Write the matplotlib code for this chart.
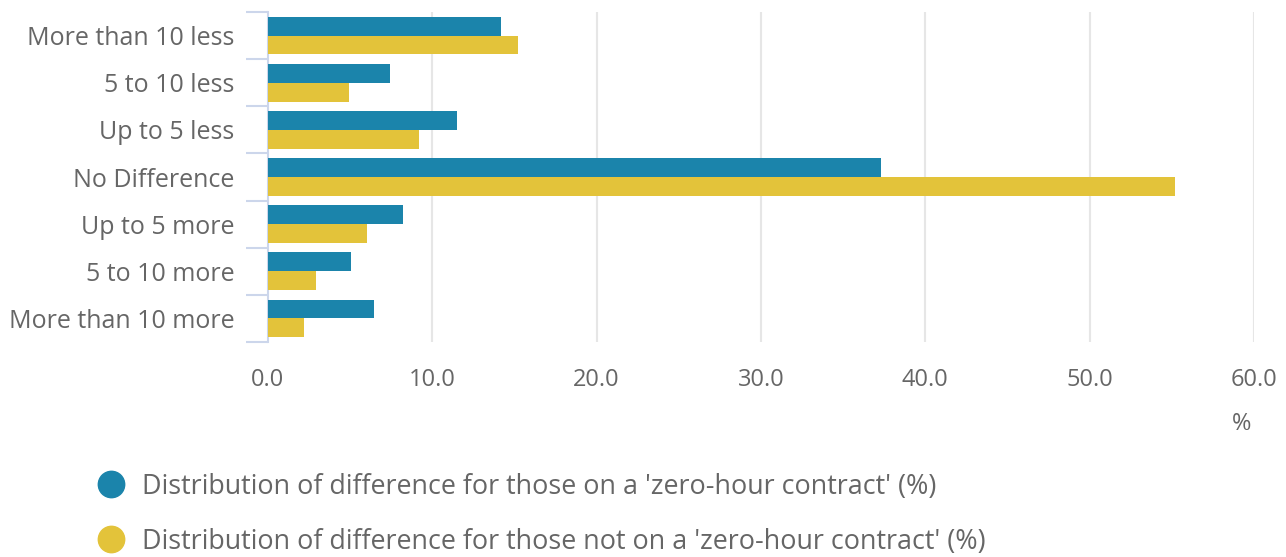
import numpy as np
import matplotlib.pyplot as plt
from matplotlib.lines import Line2D

plt.rcParams['font.family'] = ['Open Sans', 'DejaVu Sans']

categories = ["More than 10 less", "5 to 10 less", "Up to 5 less", "No Difference",
              "Up to 5 more", "5 to 10 more", "More than 10 more"]
zero_hour = [14.2, 7.4, 11.5, 37.3, 8.2, 5.05, 6.45]
not_zero_hour = [15.2, 4.9, 9.2, 55.2, 6.0, 2.9, 2.2]
labels = ["Distribution of difference for those on a 'zero-hour contract' (%)",
          "Distribution of difference for those not on a 'zero-hour contract' (%)"]

blue = "#1b84ab"
yellow = "#e3c33a"
grey = "#666666"

fig = plt.figure(figsize=(12.86, 5.57), dpi=100)
ax = fig.add_axes([268 / 1286, 1 - 342 / 557, (1254 - 268) / 1286, 330 / 557])

y = np.arange(len(categories))
h = 0.4
ax.barh(y - h / 2, zero_hour, height=h, color=blue, zorder=3)
ax.barh(y + h / 2, not_zero_hour, height=h, color=yellow, zorder=3)

ax.set_xlim(0, 60)
ax.set_ylim(len(categories) - 0.5, -0.5)
ax.set_xticks(np.arange(0, 61, 10))
ax.set_xticklabels([f"{v:.1f}" for v in np.arange(0, 61, 10)])
ax.set_yticks(y)
ax.set_yticklabels(categories)
ax.set_yticks(np.arange(-0.5, len(categories)), minor=True)

for s in ["top", "right", "bottom"]:
    ax.spines[s].set_visible(False)
ax.spines["left"].set_color("#ccd6eb")
ax.spines["left"].set_linewidth(1.5)

ax.grid(axis="x", color="#e6e6e6", linewidth=1.5, zorder=0)
ax.xaxis.get_gridlines()[0].set_visible(False)

ax.tick_params(axis="x", length=0, pad=19, labelsize=17, labelcolor=grey)
ax.tick_params(axis="y", which="major", length=0, pad=24, labelsize=18, labelcolor=grey)
ax.tick_params(axis="y", which="minor", length=16, width=1.5, color="#ccd6eb")

fig.text(1242 / 1286, 1 - 424 / 557, "%", ha="center", va="center", fontsize=17, color=grey)

handles = [Line2D([], [], marker="o", linestyle="", markersize=19, color=c) for c in (blue, yellow)]
fig.legend(handles, labels, loc="upper left", bbox_to_anchor=(80 / 1286, 1 - 462 / 557),
           frameon=False, fontsize=19.4, labelcolor=grey, labelspacing=1.0,
           handletextpad=0.4, borderaxespad=0, handlelength=1.5)

fig.savefig("out.png", dpi=100)
